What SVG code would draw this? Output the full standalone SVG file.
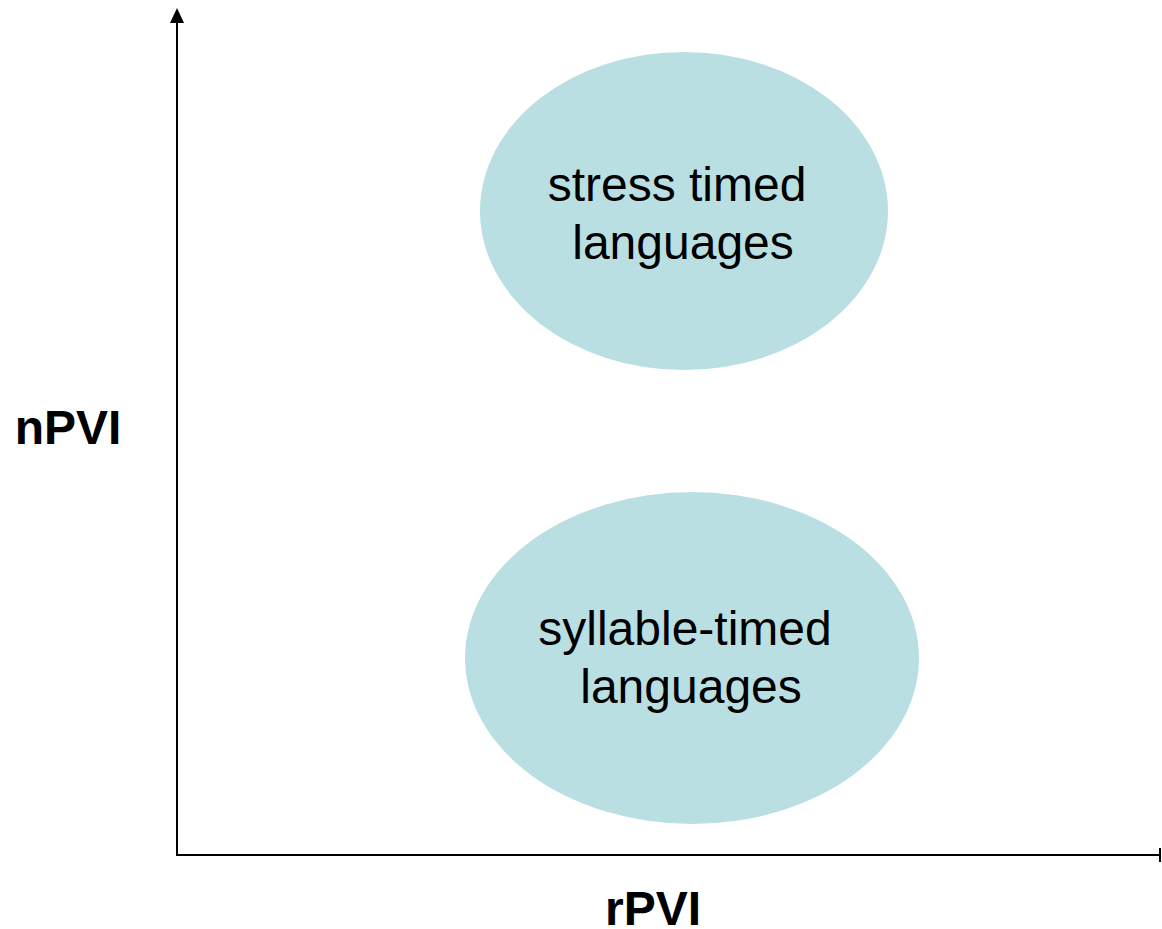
<svg xmlns="http://www.w3.org/2000/svg" width="1162" height="929" viewBox="0 0 1162 929">
<style>
.lbl{font-family:"Liberation Sans",Arial,sans-serif;font-size:48px;fill:#000;text-anchor:middle}
.ax{font-family:"Liberation Sans",Arial,sans-serif;font-size:48px;font-weight:bold;fill:#000;text-anchor:middle}
.blob{fill:#BADFE3}
.axis{stroke:#000;stroke-width:2;fill:none}
</style>
<rect width="1162" height="929" fill="#fff"/>
<g id="axes">
<line class="axis" x1="177" y1="855" x2="177" y2="20"/>
<polygon points="177,8 170,23 184,23" fill="#000"/>
<line class="axis" x1="176" y1="855" x2="1160" y2="855"/>
<line class="axis" x1="1160" y1="848" x2="1160" y2="862"/>
</g>
<g id="stress">
<ellipse class="blob" cx="684" cy="211" rx="204" ry="159"/>
<text class="lbl" x="677" y="201">stress timed</text>
<text class="lbl" x="683" y="259">languages</text>
</g>
<g id="syllable">
<ellipse class="blob" cx="692" cy="658" rx="227" ry="166"/>
<text class="lbl" x="685" y="645">syllable-timed</text>
<text class="lbl" x="691" y="703">languages</text>
</g>
<text class="ax" x="68" y="444">nPVI</text>
<text class="ax" x="653" y="925">rPVI</text>
</svg>
